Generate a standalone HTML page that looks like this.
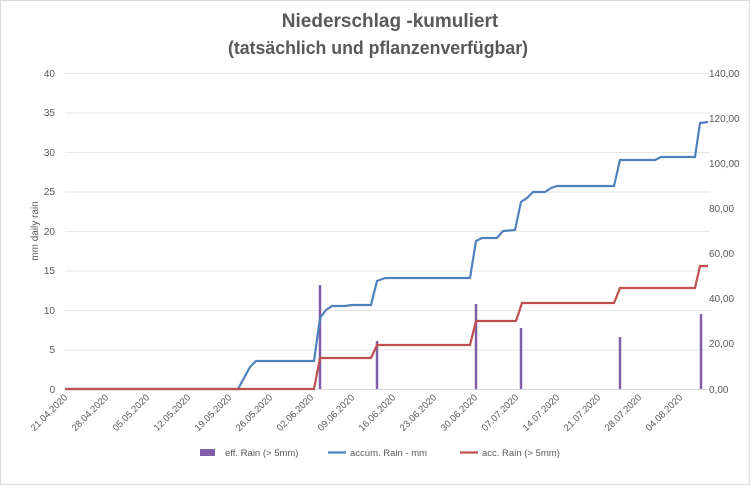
<!DOCTYPE html>
<html><head><meta charset="utf-8"><style>body{margin:0;background:#fff}svg{display:block;font-family:"Liberation Sans",sans-serif}</style></head><body>
<svg width="750" height="485" viewBox="0 0 750 485">
<rect x="0.5" y="0.5" width="749" height="484" fill="#fff" stroke="#d9d9d9"/>
<text x="390" y="27" text-anchor="middle" font-size="19" font-weight="bold" fill="#595959">Niederschlag -kumuliert</text>
<text x="378" y="54" text-anchor="middle" font-size="18" font-weight="bold" fill="#595959" textLength="300" lengthAdjust="spacingAndGlyphs">(tatsächlich und pflanzenverfügbar)</text>
<g stroke="#e6e6e6" stroke-width="1">
<line x1="65" y1="73.5" x2="710" y2="73.5"/><line x1="65" y1="113" x2="710" y2="113"/><line x1="65" y1="152.5" x2="710" y2="152.5"/><line x1="65" y1="192" x2="710" y2="192"/><line x1="65" y1="231.5" x2="710" y2="231.5"/><line x1="65" y1="271" x2="710" y2="271"/><line x1="65" y1="310.5" x2="710" y2="310.5"/><line x1="65" y1="350" x2="710" y2="350"/></g>
<line x1="65" y1="389.5" x2="710" y2="389.5" stroke="#d9d9d9"/>
<g font-size="10" fill="#595959" text-anchor="end">
<text x="55" y="77">40</text><text x="55" y="116">35</text><text x="55" y="156">30</text><text x="55" y="195">25</text><text x="55" y="235">20</text><text x="55" y="274">15</text><text x="55" y="314">10</text><text x="55" y="353">5</text><text x="55" y="393">0</text></g>
<g font-size="10" fill="#595959">
<text x="709" y="77">140,00</text><text x="709" y="122">120,00</text><text x="709" y="167">100,00</text><text x="709" y="212">80,00</text><text x="709" y="257">60,00</text><text x="709" y="302">40,00</text><text x="709" y="347">20,00</text><text x="709" y="393">0,00</text></g>
<text transform="translate(38,231) rotate(-90)" text-anchor="middle" font-size="10" fill="#595959">mm  daily rain</text>
<g font-size="9.5" fill="#595959" text-anchor="end">
<text transform="translate(68,398) rotate(-45)">21.04.2020</text>
<text transform="translate(109,398) rotate(-45)">28.04.2020</text>
<text transform="translate(150,398) rotate(-45)">05.05.2020</text>
<text transform="translate(191,398) rotate(-45)">12.05.2020</text>
<text transform="translate(232,398) rotate(-45)">19.05.2020</text>
<text transform="translate(273,398) rotate(-45)">26.05.2020</text>
<text transform="translate(314,398) rotate(-45)">02.06.2020</text>
<text transform="translate(355,398) rotate(-45)">09.06.2020</text>
<text transform="translate(396,398) rotate(-45)">16.06.2020</text>
<text transform="translate(437,398) rotate(-45)">23.06.2020</text>
<text transform="translate(478,398) rotate(-45)">30.06.2020</text>
<text transform="translate(519,398) rotate(-45)">07.07.2020</text>
<text transform="translate(560,398) rotate(-45)">14.07.2020</text>
<text transform="translate(601,398) rotate(-45)">21.07.2020</text>
<text transform="translate(642,398) rotate(-45)">28.07.2020</text>
<text transform="translate(683,398) rotate(-45)">04.08.2020</text></g>
<g stroke="#7f5fa8" stroke-width="2.5">
<line x1="320" y1="389" x2="320" y2="285"/><line x1="377" y1="389" x2="377" y2="341"/><line x1="476" y1="389" x2="476" y2="304"/><line x1="521" y1="389" x2="521" y2="328"/><line x1="620" y1="389" x2="620" y2="337"/><line x1="701" y1="389" x2="701" y2="314"/></g>
<polyline fill="none" stroke="#4f81bd" stroke-width="2.2" points="65,389 238,389 250,367 256,361 314,361 320,318 326,310 332,306 345,306 352,305 371,305 377,281 385,278 470,278 476,241 482,238 497,238 503,231 515,230 521,202 527,198 533,192 545,192 551,188 557,186 614,186 620,160 655,160 661,157 695,157 700,123 708,122"/>
<polyline fill="none" stroke="#c0504d" stroke-width="2.2" points="65,389 314,389 320,358 371,358 377,345 470,345 476,321 516,321 522,303 614,303 620,288 695,288 700,266 708,266"/>
<rect x="200" y="449" width="15" height="7" fill="#7f5fa8"/>
<text x="225" y="456" font-size="9.5" fill="#595959">eff. Rain (&gt; 5mm)</text>
<line x1="328" y1="452.5" x2="346" y2="452.5" stroke="#4f81bd" stroke-width="2.2"/>
<text x="350" y="456" font-size="9.5" fill="#595959">accum. Rain - mm</text>
<line x1="460" y1="452.5" x2="478" y2="452.5" stroke="#c0504d" stroke-width="2.2"/>
<text x="482" y="456" font-size="9.5" fill="#595959">acc. Rain (&gt; 5mm)</text>
</svg>
</body></html>
